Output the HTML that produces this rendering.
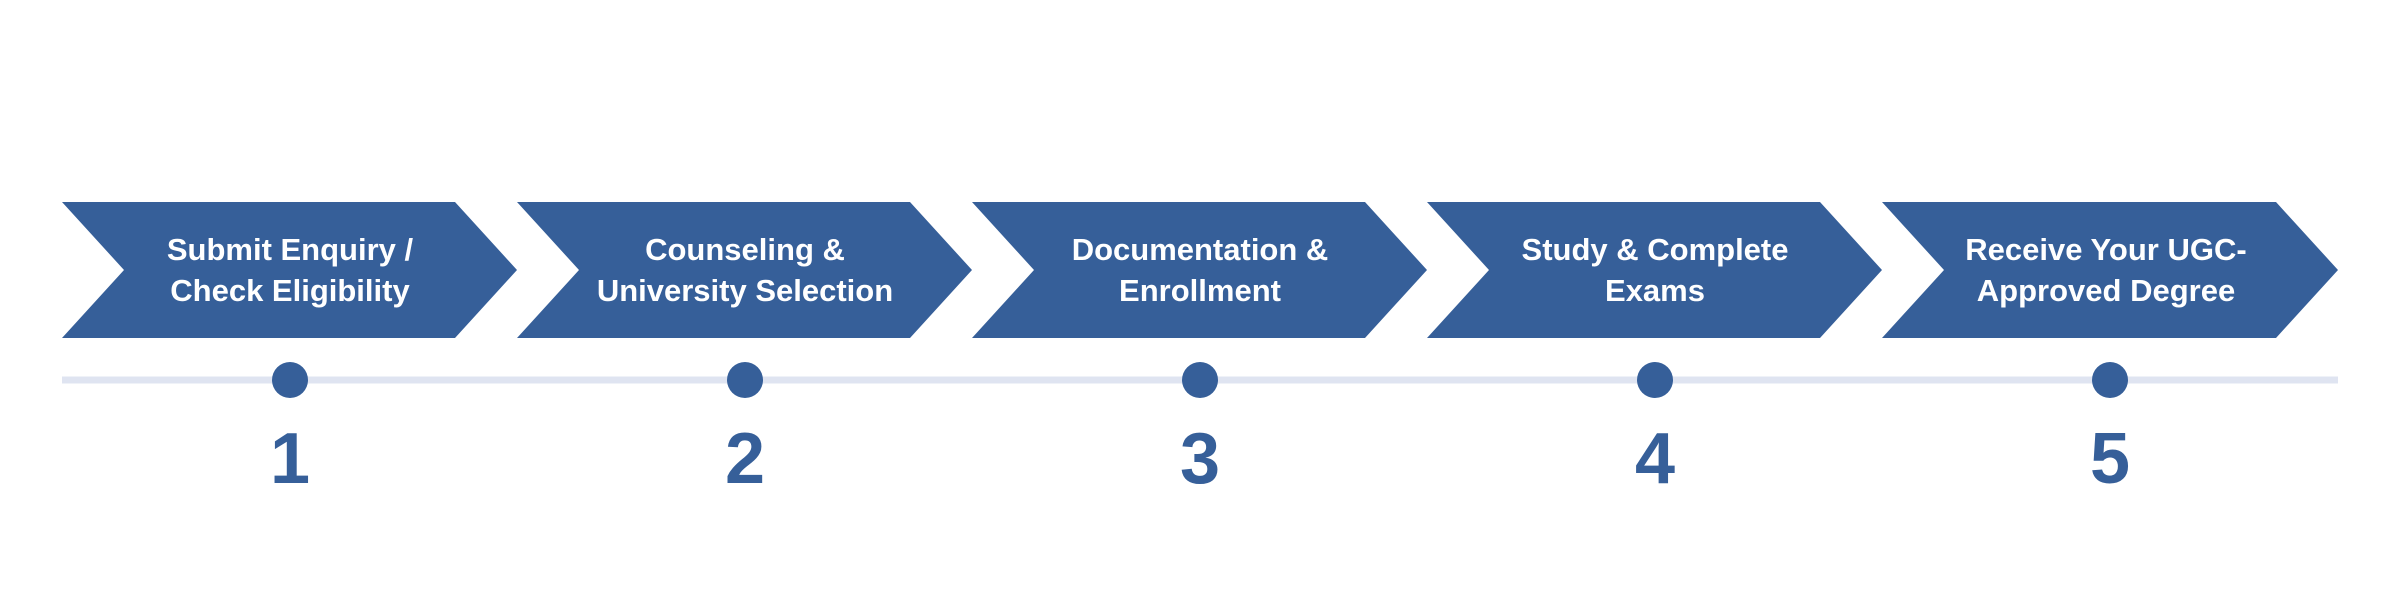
<!DOCTYPE html>
<html><head><style>
html,body{margin:0;padding:0;background:#fff;}
svg{display:block}
text{font-family:"Liberation Sans",sans-serif;font-weight:bold;}
</style></head><body>
<svg width="2400" height="599" viewBox="0 0 2400 599" xmlns="http://www.w3.org/2000/svg">
<rect x="62" y="376.5" width="2276" height="7" fill="#dfe4f1"/>
<g fill="#365f99">
<polygon points="62,202 455,202 517,270 455,338 62,338 124,270"/>
<polygon points="517,202 910,202 972,270 910,338 517,338 579,270"/>
<polygon points="972,202 1365,202 1427,270 1365,338 972,338 1034,270"/>
<polygon points="1427,202 1820,202 1882,270 1820,338 1427,338 1489,270"/>
<polygon points="1882,202 2276,202 2338,270 2276,338 1882,338 1944,270"/>
<circle cx="290" cy="380" r="18"/>
<circle cx="745" cy="380" r="18"/>
<circle cx="1200" cy="380" r="18"/>
<circle cx="1655" cy="380" r="18"/>
<circle cx="2110" cy="380" r="18"/>
</g>
<g fill="#fff" font-size="31" text-anchor="middle">
<text x="290" y="260">Submit Enquiry /</text><text x="290" y="301">Check Eligibility</text>
<text x="745" y="260">Counseling &amp;</text><text x="745" y="301">University Selection</text>
<text x="1200" y="260">Documentation &amp;</text><text x="1200" y="301">Enrollment</text>
<text x="1655" y="260">Study &amp; Complete</text><text x="1655" y="301">Exams</text>
<text x="2106" y="260">Receive Your UGC-</text><text x="2106" y="301">Approved Degree</text>
</g>
<g fill="#365f99" font-size="72" text-anchor="middle">
<text x="290" y="483">1</text>
<text x="745" y="483">2</text>
<text x="1200" y="483">3</text>
<text x="1655" y="483">4</text>
<text x="2110" y="483">5</text>
</g>
</svg>
</body></html>
